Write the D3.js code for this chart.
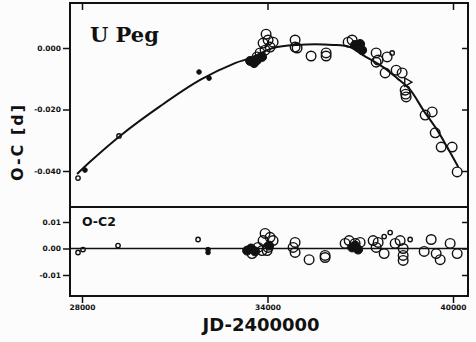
<!DOCTYPE html>
<html>
<head>
<meta charset="utf-8">
<script src="https://d3js.org/d3.v7.min.js"></script>
<style>
  body { margin: 0; background: #fff; }
  text { font-family: "DejaVu Sans", sans-serif; font-weight: bold; fill: #111; }
</style>
</head>
<body>
<div id="chart"></div>
<script>
var width = 476, height = 342;

// ----- data (JD-2400000, O-C in days) -----
var xTicks = [28000, 34000, 40000];
var yTicksMain = [0, -0.02, -0.04];
var yTickLabelsMain = ['0.000', '-0.020', '-0.040'];
var yTicksRes = [0.01, 0, -0.01];
var yTickLabelsRes = ['0.01', '0.00', '-0.01'];

// fitted curve
var fitJD  = [27840, 28260, 29230, 30520, 31820, 32950, 33440, 34180, 34960, 36120, 36670, 37090, 37740, 38190, 38620, 39040, 39490, 39810, 40170];
var fitOC  = [-0.041, -0.037, -0.0286, -0.019, -0.0104, -0.0049, -0.0033, 0.0, 0.001, 0.001, 0.0003, -0.0023, -0.0062, -0.0098, -0.0137, -0.0202, -0.0267, -0.0322, -0.0387];

// O-C, large open circles
var ocOpenJD = [33954, 33857, 34019, 34181, 34084, 33922, 33760, 33663, 34893, 34893, 34958, 35410, 35896, 35896, 36608, 36737, 37514, 37579, 37870, 37514, 37805, 38161, 38355, 38452, 38485, 38470, 39100, 39327, 39424, 39617, 39973, 40135];
var ocOpenV  = [0.0045, 0.0016, 0.0026, 0.0019, 0.0003, -0.0007, -0.0016, -0.0029, 0.0026, 0.0003, 0.0, -0.0026, -0.0016, -0.0026, 0.0019, 0.0026, -0.0016, -0.0039, -0.0029, -0.0046, -0.0081, -0.0072, -0.0081, -0.0137, -0.0159, -0.0150, -0.0218, -0.0208, -0.0276, -0.0322, -0.0322, -0.0403];
// O-C, small open circles
var ocSmallJD = [27871, 29197, 38032];
var ocSmallV  = [-0.0423, -0.0286, -0.0016];
// O-C, filled
var ocFillJD = [28097, 31786, 32110, 33437, 33566, 33663, 33825, 36834, 36931, 37061, 36996];
var ocFillV  = [-0.0397, -0.0078, -0.0098, -0.0042, -0.0049, -0.0039, -0.0029, 0.0010, 0.0003, -0.0007, 0.0013];
var ocFillBig = [0, 0, 0, 1, 1, 1, 1, 1, 1, 1, 1];
// O-C, triangle
var ocTriJD = [38517];
var ocTriV  = [-0.0111];

// residuals O-C2
var resOpenJD = [33501, 33922, 33857, 34084, 34181, 34019, 33825, 33987, 33695, 34893, 34828, 34893, 35346, 35863, 35863, 36511, 36640, 36834, 36996, 37417, 37514, 37579, 37773, 38129, 38290, 38388, 38388, 38388, 39067, 39294, 39456, 39585, 39908, 40135];
var resOpenV  = [-0.0019, 0.0057, 0.0030, 0.0042, 0.0030, 0.0004, -0.0008, -0.0008, 0.0004, 0.0023, 0.0004, -0.0015, -0.0042, -0.0034, -0.0026, 0.0019, 0.0030, 0.0019, 0.0023, 0.0030, 0.0004, 0.0023, -0.0019, 0.0019, 0.0030, 0.0000, -0.0026, -0.0045, -0.0011, 0.0034, -0.0019, -0.0042, 0.0019, -0.0019];
var resSmallJD = [27871, 28032, 29165, 31754, 37773, 37967, 38614];
var resSmallV  = [-0.0015, -0.0004, 0.0011, 0.0034, 0.0045, 0.0060, 0.0034];
var resFillJD = [32077, 32077, 33340, 33469, 33598, 34051, 36737, 36834, 36931];
var resFillV  = [-0.0004, -0.0015, -0.0008, 0.0000, -0.0011, 0.0011, 0.0004, 0.0011, -0.0004];
var resFillBig = [0, 0, 1, 1, 1, 1, 1, 1, 1];

// ----- layout -----
var frameL = 70, frameR = 468, frameT = 3, frameMid = 207, frameB = 296;

var x = d3.scaleLinear().domain([28000, 40000]).range([82, 453]);
var yMain = d3.scaleLinear().domain([0, -0.04]).range([48, 171]);
var yRes = d3.scaleLinear().domain([0.01, -0.01]).range([222, 275]);

var svg = d3.select('#chart').append('svg')
  .attr('width', width).attr('height', height);

svg.append('rect').attr('width', width).attr('height', height).attr('fill', '#fcfcfc');

function zip(a, b, c) { return a.map((d, i) => ({ jd: d, v: b[i], big: c ? c[i] : 0 })); }

function openCircles(g, data, y, r) {
  g.selectAll(null).data(data).enter().append('circle')
    .attr('cx', d => x(d.jd)).attr('cy', d => y(d.v)).attr('r', r)
    .attr('fill', 'none').attr('stroke', '#111').attr('stroke-width', 1.4);
}
function filledCircles(g, data, y) {
  g.selectAll(null).data(data).enter().append('circle')
    .attr('cx', d => x(d.jd)).attr('cy', d => y(d.v)).attr('r', d => d.big ? 4.5 : 2.3)
    .attr('fill', '#111').attr('stroke', '#111').attr('stroke-width', 1);
}

// ----- main panel -----
var gMain = svg.append('g');
var fit = fitJD.map((d, i) => [x(d), yMain(fitOC[i])]);
gMain.append('path')
  .attr('d', d3.line().curve(d3.curveCatmullRom)(fit))
  .attr('fill', 'none').attr('stroke', '#111').attr('stroke-width', 2);

openCircles(gMain, zip(ocOpenJD, ocOpenV), yMain, 4.8);
openCircles(gMain, zip(ocSmallJD, ocSmallV), yMain, 2.2);
filledCircles(gMain, zip(ocFillJD, ocFillV, ocFillBig), yMain);
gMain.selectAll(null).data(zip(ocTriJD, ocTriV)).enter().append('path')
  .attr('d', d3.symbol().type(d3.symbolTriangle).size(30))
  .attr('transform', d => `translate(${x(d.jd)},${yMain(d.v)}) rotate(90)`)
  .attr('fill', 'none').attr('stroke', '#111').attr('stroke-width', 1.4);

// ----- residual panel -----
var gRes = svg.append('g');
gRes.append('line')
  .attr('x1', frameL).attr('x2', frameR)
  .attr('y1', yRes(0)).attr('y2', yRes(0))
  .attr('stroke', '#111').attr('stroke-width', 1.3);
openCircles(gRes, zip(resOpenJD, resOpenV), yRes, 4.8);
openCircles(gRes, zip(resSmallJD, resSmallV), yRes, 2.2);
filledCircles(gRes, zip(resFillJD, resFillV, resFillBig), yRes);

// ----- frames -----
svg.append('rect').attr('x', frameL).attr('y', frameT).attr('width', frameR - frameL).attr('height', frameB - frameT)
  .attr('fill', 'none').attr('stroke', '#111').attr('stroke-width', 2);
svg.append('line').attr('x1', frameL).attr('x2', frameR).attr('y1', frameMid).attr('y2', frameMid)
  .attr('stroke', '#111').attr('stroke-width', 2);

// ----- axes -----
function styleAxis(g) {
  g.select('.domain').remove();
  g.selectAll('.tick line').attr('stroke', '#111').attr('stroke-width', 1.5);
  g.selectAll('.tick text').style('font-size', '7.5px').style('font-weight', 'bold').attr('fill', '#111');
}

svg.append('g').attr('transform', `translate(${frameL},0)`)
  .call(d3.axisLeft(yMain).tickValues(yTicksMain).tickFormat((d, i) => yTickLabelsMain[i]).tickSize(7).tickPadding(2))
  .call(styleAxis);
svg.append('g').attr('transform', `translate(${frameR},0)`)
  .call(d3.axisLeft(yMain).tickValues(yTicksMain).tickFormat('').tickSize(6))
  .call(styleAxis);
svg.append('g').attr('transform', `translate(${frameL},0)`)
  .call(d3.axisLeft(yRes).tickValues(yTicksRes).tickFormat((d, i) => yTickLabelsRes[i]).tickSize(7).tickPadding(2))
  .call(styleAxis);
svg.append('g').attr('transform', `translate(${frameR},0)`)
  .call(d3.axisLeft(yRes).tickValues(yTicksRes).tickFormat('').tickSize(6))
  .call(styleAxis);
svg.append('g').attr('transform', `translate(0,${frameB})`)
  .call(d3.axisBottom(x).tickValues(xTicks).tickFormat(d3.format('d')).tickSize(7).tickPadding(2))
  .call(styleAxis);
svg.append('g').attr('transform', `translate(0,${frameT})`)
  .call(d3.axisBottom(x).tickValues(xTicks).tickFormat('').tickSize(7))
  .call(styleAxis);

// ----- labels -----
svg.append('text').attr('x', 90).attr('y', 42)
  .style('font-family', '"DejaVu Serif", serif').style('font-size', '21px')
  .text('U Peg');
svg.append('text').attr('x', 82).attr('y', 226)
  .style('font-size', '12.5px')
  .text('O-C2');
svg.append('text').attr('x', 261).attr('y', 331).attr('text-anchor', 'middle')
  .style('font-size', '18px')
  .text('JD-2400000');
svg.append('text').attr('transform', 'translate(23,142) rotate(-90)').attr('text-anchor', 'middle')
  .style('font-size', '16px').style('letter-spacing', '2px')
  .text('O-C [d]');
</script>
</body>
</html>
